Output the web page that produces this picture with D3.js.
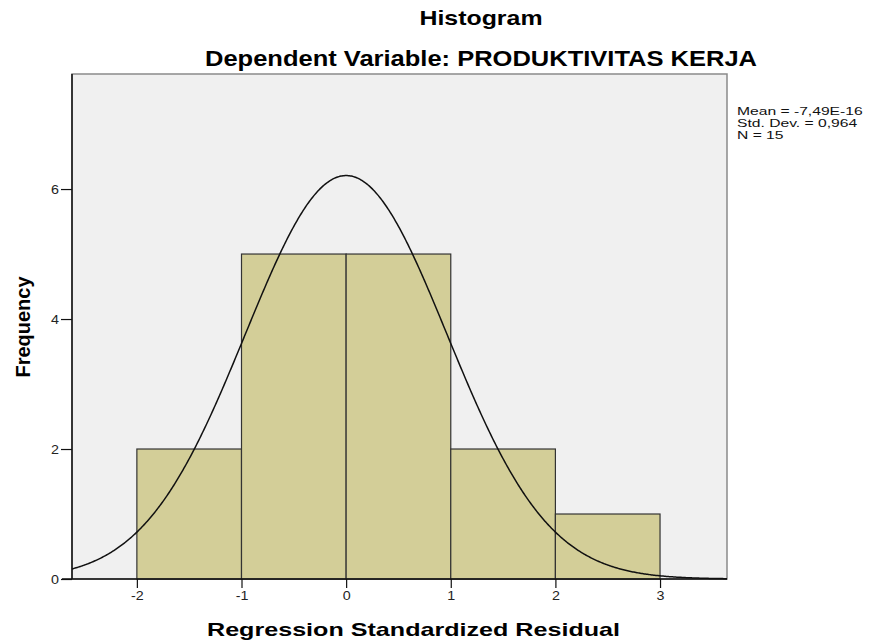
<!DOCTYPE html>
<html><head><meta charset="utf-8">
<script src="https://cdn.jsdelivr.net/npm/d3@7"></script>
<style>body{margin:0;background:#fff}text{font-family:"Liberation Sans",Arial,sans-serif}</style>
</head><body><svg id="c" width="886" height="640"></svg>
<script>
const binStarts = [-2, -1, 0, 1, 2];
const binEnds = [-1, 0, 1, 2, 3];
const counts = [2, 5, 5, 2, 1];
const xTicks = [-2, -1, 0, 1, 2, 3];
const yTicks = [0, 2, 4, 6];
const stats = ["Mean = -7,49E-16", "Std. Dev. = 0,964", "N = 15"];
const meanV = -7.49e-16, sdV = 0.964, nV = 15;

const svg = d3.select("#c");
const L = 72, R = 727, T = 74, B = 579;
const x = d3.scaleLinear().domain([-2.62, 3.64]).range([L, R]);
const y = d3.scaleLinear().domain([0, 7.77]).range([B, T]);
const fmt = d => String(d);

function stretch(sel, sx) {
  sel.each(function () {
    const w = this.getComputedTextLength();
    d3.select(this).attr("textLength", w * sx).attr("lengthAdjust", "spacingAndGlyphs");
  });
}

svg.append("rect").attr("x", L).attr("y", T).attr("width", R - L).attr("height", B - T)
  .attr("fill", "#f0f0f0").attr("stroke", "#8a8a8a").attr("stroke-width", 1.5);

svg.append("g").selectAll("rect").data(counts).join("rect")
  .attr("x", (d, i) => x(binStarts[i])).attr("width", (d, i) => x(binEnds[i]) - x(binStarts[i]))
  .attr("y", d => y(d)).attr("height", d => B - y(d))
  .attr("fill", "#d3ce98").attr("stroke", "#333").attr("stroke-width", 1.2);

const pts = d3.range(-2.62, 3.645, 0.01).map(v => [v, nV / (sdV * Math.sqrt(2 * Math.PI)) * Math.exp(-0.5 * ((v - meanV) / sdV) ** 2)]);
svg.append("path").datum(pts).attr("fill", "none").attr("stroke", "#111").attr("stroke-width", 1.5)
  .attr("d", d3.line().x(d => x(d[0])).y(d => y(d[1])));

const xa = svg.append("g").attr("transform", `translate(0,${B})`)
  .call(d3.axisBottom(x).tickValues(xTicks).tickSize(9).tickPadding(3).tickSizeOuter(0).tickFormat(fmt));
const ya = svg.append("g").attr("transform", `translate(${L},0)`)
  .call(d3.axisLeft(y).tickValues(yTicks).tickSize(11).tickPadding(2).tickSizeOuter(0).tickFormat(fmt));
[xa, ya].forEach(a => {
  a.select(".domain").attr("stroke", "#111").attr("stroke-width", 1.5);
  a.selectAll(".tick line").attr("stroke", "#111").attr("stroke-width", 1.2);
  a.selectAll(".tick text").attr("font-size", 13).attr("fill", "#222").attr("font-family", "Liberation Sans, Arial, sans-serif");
});
xa.select(".domain").attr("d", `M${L - 10},0H${R}`);
ya.select(".domain").attr("d", `M0,${T}V${B}`);
stretch(xa.selectAll(".tick text"), 1.1);
stretch(ya.selectAll(".tick text"), 1.1);

svg.append("text").attr("x", 481).attr("y", 24.5).attr("text-anchor", "middle")
  .attr("font-size", 21).attr("font-weight", "bold").text("Histogram")
  .attr("textLength", 123).attr("lengthAdjust", "spacingAndGlyphs");
svg.append("text").attr("x", 481).attr("y", 66).attr("text-anchor", "middle")
  .attr("font-size", 22).attr("font-weight", "bold").text("Dependent Variable: PRODUKTIVITAS KERJA")
  .attr("textLength", 552).attr("lengthAdjust", "spacingAndGlyphs");
svg.append("text").attr("x", 413.5).attr("y", 636).attr("text-anchor", "middle")
  .attr("font-size", 19).attr("font-weight", "bold").text("Regression Standardized Residual")
  .attr("textLength", 413).attr("lengthAdjust", "spacingAndGlyphs");
svg.append("text").attr("transform", "translate(30,327) rotate(-90)").attr("text-anchor", "middle")
  .attr("font-size", 20).attr("font-weight", "bold").text("Frequency");

const lg = svg.append("g").selectAll("text").data(stats).join("text")
  .attr("x", 737).attr("y", (d, i) => 115 + i * 12).attr("font-size", 11.5).attr("fill", "#111").text(d => d);
stretch(lg, 1.36);
</script></body></html>
